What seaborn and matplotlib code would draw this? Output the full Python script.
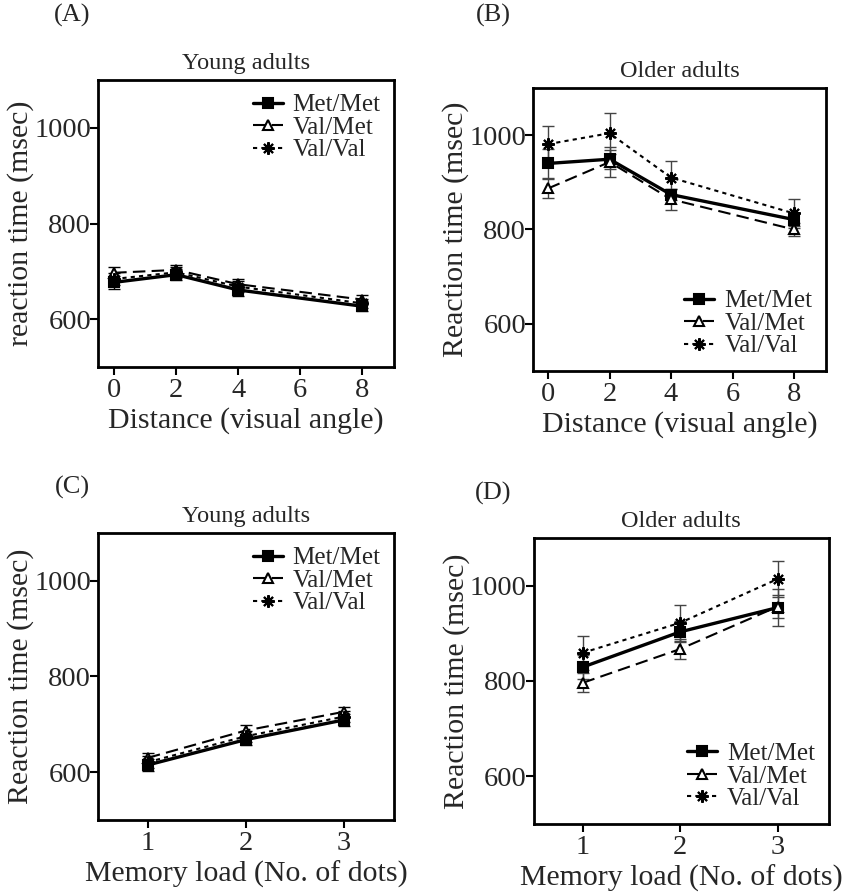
import numpy as np
import pandas as pd
import matplotlib
matplotlib.use('Agg')
import matplotlib.pyplot as plt
import seaborn as sns

sns.set_style('ticks')
plt.rcParams['font.family'] = ['Liberation Serif', 'DejaVu Serif']

genotypes = ['Met/Met', 'Val/Met', 'Val/Val']
distance = [0, 2, 4, 8]
load = [1, 2, 3]

# (A) young adults, distance
young_dist_mean = {'Met/Met': [677, 693, 661, 627],
                   'Val/Met': [697, 703, 673, 641],
                   'Val/Val': [684, 698, 668, 633]}
young_dist_sem = {'Met/Met': [13, 12, 13, 10],
                  'Val/Met': [12, 11, 11, 9],
                  'Val/Val': [12, 12, 11, 10]}
# (B) older adults, distance
old_dist_mean = {'Met/Met': [940, 949, 874, 821],
                 'Val/Met': [887, 943, 864, 800],
                 'Val/Val': [981, 1004, 910, 834]}
old_dist_sem = {'Met/Met': [30, 20, 12, 14],
                'Val/Met': [20, 32, 22, 14],
                'Val/Val': [38, 43, 35, 30]}
# (C) young adults, memory load
young_load_mean = {'Met/Met': [615, 668, 709],
                   'Val/Met': [630, 687, 726],
                   'Val/Val': [621, 675, 716]}
young_load_sem = {'Met/Met': [12, 11, 12],
                  'Val/Met': [11, 11, 11],
                  'Val/Val': [12, 11, 12]}
# (D) older adults, memory load
old_load_mean = {'Met/Met': [829, 903, 954],
                 'Val/Met': [796, 867, 956],
                 'Val/Val': [859, 922, 1014]}
old_load_sem = {'Met/Met': [25, 22, 38],
                'Val/Met': [20, 20, 25],
                'Val/Val': [35, 38, 37]}

styles = {
    'Met/Met': dict(marker='s', linestyle='-', linewidth=2.4, markersize=7, markerfacecolor='black'),
    'Val/Met': dict(marker='^', linestyle=(0, (6, 3)), linewidth=1.5, markersize=7, markerfacecolor='white'),
    'Val/Val': dict(marker=(8, 2, 0), linestyle=(0, (2, 2)), linewidth=1.5, markersize=9, markerfacecolor='black'),
}


def draw_panel(ax, xs, means, sems, title, xlabel, ylabel, legend_loc, xlim, xticks, ecolor):
    rows = []
    for g in genotypes:
        for x, m, s in zip(xs, means[g], sems[g]):
            rows.append({'x': x, 'rt': m, 'sem': s, 'genotype': g})
    df = pd.DataFrame(rows)
    for g in genotypes:
        sub = df[df['genotype'] == g]
        ax.errorbar(sub['x'], sub['rt'], yerr=sub['sem'], fmt='none',
                    ecolor=ecolor, elinewidth=1.0, capsize=4, capthick=1.0, zorder=2)
    for g in genotypes:
        sub = df[df['genotype'] == g]
        sns.lineplot(data=sub, x='x', y='rt', ax=ax, color='black', label=g,
                     markeredgecolor='black', markeredgewidth=1.5, zorder=3, **styles[g])
    ax.set_xlim(*xlim)
    ax.set_ylim(500, 1100)
    ax.set_xticks(xticks)
    ax.set_yticks([600, 800, 1000])
    ax.set_title(title, fontsize=17.5, pad=8)
    ax.set_xlabel(xlabel, fontsize=21.5, labelpad=3)
    ax.set_ylabel(ylabel, fontsize=21.5, labelpad=0)
    ax.tick_params(axis='both', labelsize=20.5, length=6, width=1.5, color='black')
    ax.tick_params(axis='x', pad=2)
    ax.tick_params(axis='y', pad=-1)
    for sp in ax.spines.values():
        sp.set_linewidth(2.0)
        sp.set_color('black')
    ax.legend(loc=legend_loc, frameon=False, fontsize=18, handlelength=1.2,
              handletextpad=0.4, labelspacing=0.0, borderaxespad=0.15)


fig = plt.figure(figsize=(8.42, 8.94), dpi=100)
axA = fig.add_axes([0.1164, 0.5895, 0.352, 0.321])
axB = fig.add_axes([0.633, 0.585, 0.348, 0.3166])
axC = fig.add_axes([0.1164, 0.0828, 0.352, 0.321])
axD = fig.add_axes([0.634, 0.0783, 0.350, 0.32])

draw_panel(axA, distance, young_dist_mean, young_dist_sem, 'Young adults',
           'Distance (visual angle)', 'reaction time (msec)', 'upper right',
           (-0.52, 9.03), [0, 2, 4, 6, 8], 'black')
draw_panel(axB, distance, old_dist_mean, old_dist_sem, 'Older adults',
           'Distance (visual angle)', 'Reaction time (msec)', 'lower right',
           (-0.49, 9.04), [0, 2, 4, 6, 8], '#444444')
draw_panel(axC, load, young_load_mean, young_load_sem, 'Young adults',
           'Memory load (No. of dots)', 'Reaction time (msec)', 'upper right',
           (0.49, 3.52), [1, 2, 3], 'black')
draw_panel(axD, load, old_load_mean, old_load_sem, 'Older adults',
           'Memory load (No. of dots)', 'Reaction time (msec)', 'lower right',
           (0.5, 3.52), [1, 2, 3], '#444444')

for lab, (px, py) in zip(['(A)', '(B)', '(C)', '(D)'],
                         [(72, 15), (493, 15), (72, 487), (493, 493)]):
    fig.text(px / 842, 1 - py / 894, lab, fontsize=19, ha='center', va='center')

fig.savefig('out.png', dpi=100)
